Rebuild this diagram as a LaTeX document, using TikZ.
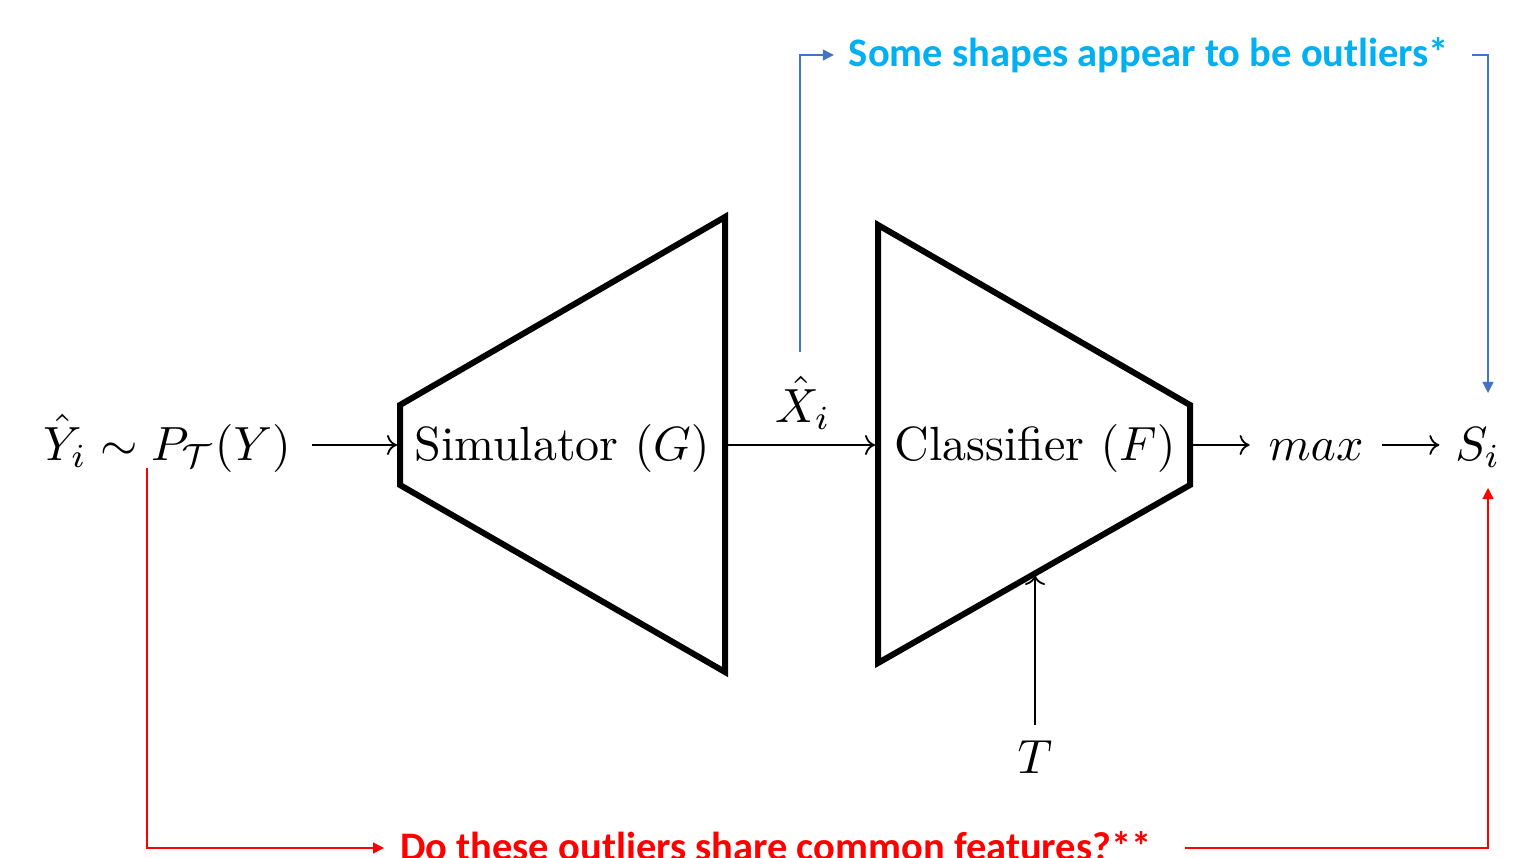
\documentclass[tikz,border=0pt]{standalone}
\usepackage{fontspec}
\newfontfamily\calib{Carlito}
\usetikzlibrary{arrows.meta}
\definecolor{lineblue}{HTML}{4472C4}
\definecolor{textblue}{HTML}{00B0F0}
\definecolor{myred}{HTML}{FF0000}
\begin{document}
\begin{tikzpicture}[x=1pt,y=-1pt,
  block/.style={line width=6pt, line join=miter},
  flow/.style={line width=1.8pt, -{To[length=10pt,width=20pt]}},
  lbl/.style={inner sep=0pt, anchor=base, font=\fontsize{10}{12}\selectfont, scale=4.8},
  note/.style={inner sep=0pt, font=\calib\bfseries\fontsize{40.5}{44}\selectfont},
  bluelink/.style={lineblue, line width=1.2pt},
  redlink/.style={myred, line width=1.2pt},
  bluetip/.style={-{Triangle[length=11pt,width=11pt]}},
]
\useasboundingbox (0,0) rectangle (1518,858);
% trapezoid corners
\coordinate (g1) at (400,405);
\coordinate (g2) at (725,217);
\coordinate (g3) at (725,672);
\coordinate (g4) at (400,485);
\coordinate (f1) at (878,225);
\coordinate (f2) at (1190,405);
\coordinate (f3) at (1190,485);
\coordinate (f4) at (878,663);
\draw[block] (g1) -- (g2) -- (g3) -- (g4) -- cycle;
\draw[block] (f1) -- (f2) -- (f3) -- (f4) -- cycle;
\coordinate (gL) at (397,445);
\coordinate (gR) at (728,445);
\coordinate (fL) at (875,445);
\coordinate (fR) at (1193,445);
\coordinate (fB) at (1035,575);
% labels
\node[lbl] (yin) at (167,460) {$\hat{Y}_i \sim P_{\mathcal{T}}(Y)$};
\node[lbl] (sim) at (562,460) {Simulator $(G)$};
\node[lbl] (xh) at (803,422) {$\hat{X}_i$};
\node[lbl] (cls) at (1035,460) {Classifier $(F)$};
\node[lbl] (mx) at (1316,460) {$max$};
\node[lbl] (si) at (1478,460) {$S_i$};
\node[lbl] (T) at (1035,773) {$T$};
% flow arrows
\draw[flow] ([xshift=20pt]yin.east |- gL) -- (gL);
\draw[flow] (gR) -- (fL);
\draw[flow] (fR) -- ([xshift=-18pt]mx.west |- fR);
\draw[flow] ([xshift=18pt]mx.east |- fR) -- ([xshift=-15pt]si.west |- fR);
\draw[flow] ([yshift=14pt]T.north) -- (fB);
% notes
\node[note, text=textblue] (bt) at (1149,55) {Some shapes appear to be outliers*};
\node[note, text=myred, anchor=base west] (rt) at (400,860) {Do these outliers share common features?**};
\coordinate (bs) at (800,352);
\coordinate (sTop) at (1488,393);
\coordinate (rs) at (147,468);
\coordinate (sBot) at (1488,488);
\draw[bluelink, bluetip] (bs) |- ([xshift=-15pt]bt.west);
\draw[bluelink, bluetip] ([xshift=23pt]bt.east) -| (sTop);
\draw[redlink, bluetip] (rs) |- ([xshift=-16pt]rt.west |- 0,848);
\draw[redlink, bluetip] ([xshift=33pt]rt.east |- 0,848) -| (sBot);
\end{tikzpicture}
\end{document}
